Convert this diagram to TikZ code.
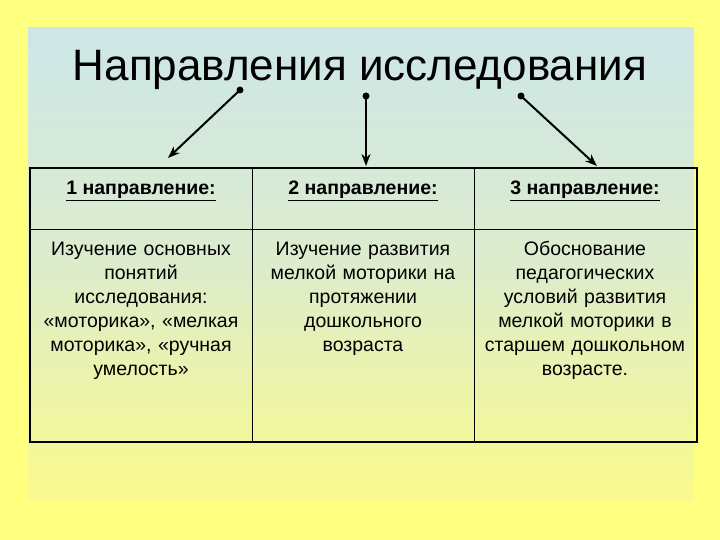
\documentclass[tikz,border=0pt]{standalone}
\usepackage{fontspec}
\setmainfont{Liberation Sans}
\usetikzlibrary{arrows.meta}
\definecolor{bgy}{RGB}{255,255,128}
\definecolor{topc}{RGB}{205,230,232}
\definecolor{midc}{RGB}{220,236,205}
\definecolor{botc}{RGB}{250,250,140}
\begin{document}
\begin{tikzpicture}[x=1pt,y=-1pt,
  cell/.style={font=\fontsize{19.5}{24}\selectfont,align=center,text width=218pt},
  head/.style={font=\fontsize{19.5}{22}\selectfont\bfseries},
  arr/.style={line width=2pt,-{Stealth[length=12pt,width=9pt]}}]
\useasboundingbox (0,0) rectangle (720,540);
\fill[bgy] (0,0) rectangle (720,540);
\shade[top color=topc,bottom color=midc] (28,28) rectangle (694,260);
\shade[top color=midc,bottom color=botc] (28,260) rectangle (694,500);
\node (title) at (360,70) {\fontsize{44}{48}\selectfont Направления исследования};
\foreach \n/\a/\b/\c/\d in {a/240/90/168/158,b/366/96/366/166,c/521/96/597/166}{
  \fill (\a,\b) circle (3.5pt);
  \coordinate (s\n) at (\a,\b); \coordinate (e\n) at (\c,\d);
  \draw[arr] (s\n) -- (e\n);}
\draw[line width=1.8pt] (30,168) rectangle (697,442);
\draw[line width=1pt] (30,230) -- (697,230) (252,168) -- (252,442) (474,168) -- (474,442);
\node[head] (h1) at (141,191) {\underline{1 направление:}};
\node[head] (h2) at (363,191) {\underline{2 направление:}};
\node[head] (h3) at (585,191) {\underline{3 направление:}};
\node[cell,anchor=north] (c1) at (141,235) {\strut Изучение основных\\ понятий\\ исследования:\\ «моторика», «мелкая\\ моторика», «ручная\\ умелость»};
\node[cell,anchor=north] (c2) at (363,235) {\strut Изучение развития\\ мелкой моторики на\\ протяжении\\ дошкольного\\ возраста};
\node[cell,anchor=north] (c3) at (585,235) {\strut Обоснование\\ педагогических\\ условий развития\\ мелкой моторики в\\ старшем дошкольном\\ возрасте.};
\end{tikzpicture}
\end{document}
